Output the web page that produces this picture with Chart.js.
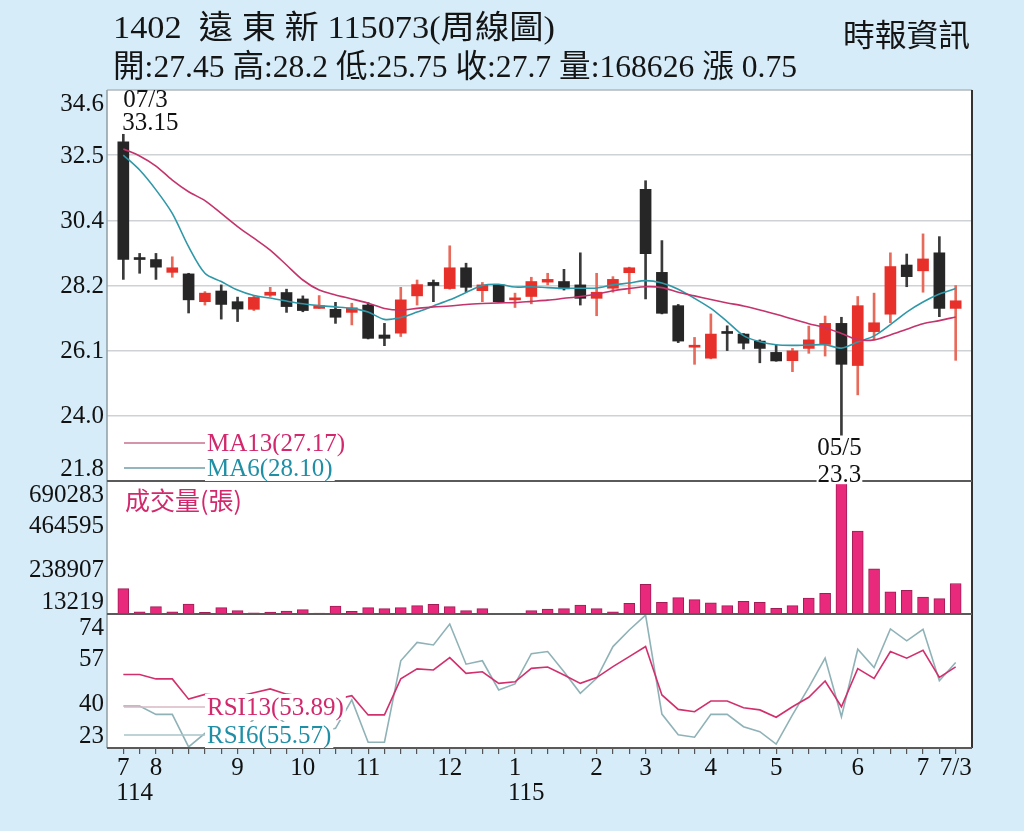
<!DOCTYPE html>
<html><head><meta charset="utf-8">
<script src="https://cdn.jsdelivr.net/npm/chart.js"></script>
<style>
html,body{margin:0;padding:0;background:#d6ecf8;width:1024px;height:831px;overflow:hidden;}
#wrap{position:relative;width:1024px;height:831px;}
canvas{position:absolute;left:0;top:0;}
.hd{position:absolute;white-space:pre;font-family:"Liberation Serif","Noto Sans CJK TC",serif;color:#151515;transform-origin:0 0;line-height:1;}
</style></head>
<body><div id="wrap">
<canvas id="c" width="1024" height="831"></canvas>
<div class="hd" id="t1" style="left:113px;top:11px;font-size:32px">1402  遠 東 新 115073(周線圖)</div>
<div class="hd" id="t2" style="left:113px;top:50px;font-size:32px">開:27.45 高:28.2 低:25.75 收:27.7 量:168626 漲 0.75</div>
<div class="hd" id="t3" style="left:843px;top:20px;font-size:31px">時報資訊</div>
</div>
<script>
// ---- data (weekly, 52 weeks) ----
const opens  = [32.9,29.1,29.05,28.63,28.58,27.67,28.02,27.67,27.42,27.88,27.97,27.76,27.45,27.42,27.32,27.56,26.58,26.64,27.86,28.3,28.1,28.78,28.03,28.22,27.73,27.84,28.31,28.33,28.22,27.78,28.11,28.62,31.35,28.63,27.54,26.18,25.82,26.66,26.61,26.38,26.01,25.74,26.14,26.27,26.96,25.58,26.69,27.26,28.87,28.68,29.27,27.45];
const highs  = [33.15,29.25,29.25,29.14,28.6,28.0,28.22,27.82,27.85,28.14,28.08,27.86,27.87,27.65,27.62,27.64,26.96,28.14,28.38,28.38,29.5,28.93,28.3,28.23,27.95,28.47,28.6,28.73,29.27,28.6,28.49,28.8,31.63,29.67,27.58,26.5,27.27,26.88,26.63,26.42,26.25,26.14,26.87,27.2,27.16,27.84,27.95,29.27,29.23,29.89,29.8,28.2];
const lows   = [28.4,28.6,28.4,28.47,27.3,27.56,27.1,27.02,27.38,27.84,27.32,27.34,27.45,26.96,26.91,26.45,26.23,26.53,27.56,27.67,28.08,28.0,27.67,27.66,27.48,27.6,28.22,28.05,27.56,27.21,27.98,27.93,27.76,27.27,26.33,25.62,25.8,26.07,26.12,25.67,25.72,25.38,25.98,25.89,23.3,24.62,26.42,26.98,28.16,27.98,27.18,25.75];
const closes = [29.05,29.05,28.8,28.78,27.73,27.95,27.58,27.43,27.81,27.98,27.51,27.38,27.54,27.16,27.47,26.47,26.47,27.73,28.23,28.2,28.78,28.14,28.22,27.67,27.78,28.33,28.4,28.09,27.78,27.98,28.4,28.78,29.24,27.29,26.38,26.23,26.61,26.63,26.31,26.14,25.73,26.06,26.42,26.96,25.62,27.54,26.98,28.82,28.49,29.07,27.45,27.7];
const ma13 = [32.67,32.44,32.11,31.65,31.27,30.98,30.56,30.13,29.75,29.36,28.87,28.38,28.05,27.89,27.76,27.62,27.45,27.4,27.45,27.5,27.53,27.58,27.61,27.63,27.64,27.68,27.72,27.78,27.84,27.92,28.03,28.1,28.16,28.13,27.98,27.86,27.74,27.63,27.53,27.4,27.26,27.1,26.95,26.82,26.63,26.43,26.42,26.58,26.77,26.95,27.05,27.17];
const ma6  = [32.47,31.98,31.33,30.56,29.47,28.6,28.33,28.05,27.87,27.79,27.69,27.6,27.54,27.5,27.45,27.33,27.09,27.15,27.33,27.53,27.73,27.97,28.2,28.24,28.15,28.16,28.13,28.11,28.11,28.12,28.22,28.28,28.36,28.28,28.08,27.78,27.45,27.02,26.56,26.36,26.26,26.24,26.25,26.26,26.15,26.35,26.55,26.92,27.33,27.66,27.92,28.10];
const volume = [142000,24900,50400,24900,64100,21900,45300,30000,19800,23400,28500,35100,18300,53900,27000,45300,40200,45300,55500,62600,50400,30000,40200,13219,14800,30000,38700,40200,59000,40200,24900,67700,164400,72800,96200,86000,70700,55500,77900,72800,42200,55500,94700,118600,690283,435800,243800,126700,133900,99800,91100,168626];
const rsi13 = [51.0,51.0,49.3,49.3,41.6,43.4,43.0,42.6,44.0,45.5,43.5,42.8,42.0,41.5,42.9,35.6,35.6,49.3,53.1,52.7,57.4,51.4,52.0,47.6,48.2,53.3,53.8,50.8,47.6,49.8,54.0,57.8,61.6,43.2,37.7,36.8,40.9,40.9,38.3,37.5,34.7,38.7,42.3,48.5,38.7,53.2,49.5,59.7,57.2,60.2,49.9,53.89];
const rsi6  = [39.0,39.0,35.8,35.8,23.4,28.6,30.0,28.0,34.0,37.0,32.0,30.0,29.0,30.5,41.3,25.2,25.2,56.2,63.2,62.2,70.2,54.9,56.2,45.1,47.4,58.9,59.7,52.0,43.8,49.5,61.6,67.9,73.6,35.9,28.0,27.1,35.8,35.8,31.1,29.2,24.5,35.6,46.1,57.2,34.9,60.6,53.6,68.3,63.8,68.2,48.6,55.57];

// ---- axis ranges and tick labels ----
const priceRange = [21.8, 34.6];
const volRange = [13219, 690283];
const rsiRange = [23, 74];
const priceTickText = ['21.8','24.0','26.1','28.2','30.4','32.5','34.6'];
const volTickText = ['13219','238907','464595','690283'];
const rsiTickText = ['23','40','57','74'];
const monthTickIdx = [0,2,7,11,15,20,24,29,32,36,40,45,49,51];
const monthTickText = ['7','8','9','10','11','12','1','2','3','4','5','6','7','7/3'];
const yearTickIdx = [0,24];
const yearTickText = ['114','115'];
const markIdx = [0,44];
const markDate = ['07/3','05/5'];
const markVal = ['33.15','23.3'];
const legendText = {ma13:'MA13(27.17)', ma6:'MA6(28.10)', vol:'成交量(張)', rsi13:'RSI13(53.89)', rsi6:'RSI6(55.57)'};

// ---- header fit ----
function fitW(id, w){ const el=document.getElementById(id); const r=el.getBoundingClientRect().width; el.style.transform='scaleX('+(w/r)+')'; }
fitW('t1', 442); fitW('t2', 684); fitW('t3', 127);

const RED='#e8302a', REDW='#e86a5a', BLK='#262626';
const isUp = closes.map((c,i)=>c>=opens[i]);
const idx = closes.map((_,i)=>i);

const SERIF='"Liberation Serif", "Times New Roman", serif';

const panelPlugin = {
  id:'panels',
  beforeDraw(chart){
    const {ctx, chartArea:a} = chart;
    ctx.save(); ctx.fillStyle='#ffffff'; ctx.fillRect(a.left,a.top,a.right-a.left,a.bottom-a.top); ctx.restore();
  },
  beforeDatasetDraw(chart,args){
    const ys = args.meta.yScale, a = chart.chartArea, ctx = chart.ctx;
    ctx.save(); ctx.beginPath(); ctx.rect(a.left, ys.top, a.right-a.left, ys.bottom-ys.top); ctx.clip();
  },
  afterDatasetDraw(chart){ chart.ctx.restore(); },
  afterDatasetsDraw(chart){
    const {ctx, chartArea:a, scales} = chart;
    const yp=scales.yPrice, yv=scales.yVol, yr=scales.yRsi, x=scales.x;
    ctx.save();
    ctx.lineWidth=1.5; ctx.strokeStyle='#b9bfc3';
    ctx.beginPath(); ctx.moveTo(a.left,a.top); ctx.lineTo(a.right,a.top); ctx.stroke();
    ctx.strokeStyle='#8e9ea6';
    ctx.beginPath(); ctx.moveTo(a.left,a.top); ctx.lineTo(a.left,a.bottom); ctx.stroke();
    ctx.lineWidth=2; ctx.strokeStyle='#333';
    ctx.beginPath(); ctx.moveTo(a.right,a.top); ctx.lineTo(a.right,a.bottom); ctx.stroke();
    ctx.strokeStyle='#5a5a5a';
    [yp.bottom, yv.bottom, a.bottom].forEach(y=>{ctx.beginPath(); ctx.moveTo(a.left,y); ctx.lineTo(a.right,y); ctx.stroke();});

    function legend(txt, col, lineCol, cy){
      ctx.lineWidth=1.3; ctx.strokeStyle=lineCol;
      ctx.beginPath(); ctx.moveTo(a.left+17, cy); ctx.lineTo(a.left+98, cy); ctx.stroke();
      ctx.font='25px '+SERIF; ctx.textBaseline='middle'; ctx.textAlign='left';
      const w=ctx.measureText(txt).width;
      ctx.fillStyle='#fff'; ctx.fillRect(a.left+98, cy-13, w+4, 26);
      ctx.fillStyle=col; ctx.fillText(txt, a.left+100, cy+1);
    }
    legend(legendText.ma13, '#d2286c', '#c9708f', yp.bottom-38);
    legend(legendText.ma6, '#1f8fa6', '#6f9ea8', yp.bottom-13);
    legend(legendText.rsi13, '#d2286c', '#d8b8c4', yr.bottom-41);
    legend(legendText.rsi6, '#1f8fa6', '#a9c4c8', yr.bottom-13);
    ctx.font='25px "Noto Sans CJK TC", sans-serif'; ctx.fillStyle='#d2286c'; ctx.textBaseline='middle'; ctx.textAlign='left';
    ctx.fillText(legendText.vol, a.left+18, yv.top+19);

    ctx.font='25px '+SERIF; ctx.fillStyle='#111';
    const hx = x.getPixelForValue(markIdx[0]), hy = yp.getPixelForValue(highs[markIdx[0]]);
    ctx.textAlign='left'; ctx.textBaseline='alphabetic';
    ctx.fillText(markVal[0], hx-1, hy-4);
    ctx.fillText(markDate[0], hx, hy-27);
    const lx = x.getPixelForValue(markIdx[1]), ly = yp.getPixelForValue(lows[markIdx[1]]);
    ctx.textAlign='center'; ctx.textBaseline='top';
    ctx.fillStyle='#fff';
    const w1=ctx.measureText(markVal[1]).width;
    ctx.fillRect(lx-w1/2-3, ly+27, w1+2, 22);
    ctx.fillStyle='#111';
    ctx.fillText(markDate[1], lx-2, ly+1);
    ctx.fillText(markVal[1], lx-2, ly+28);
    ctx.restore();
  },
  afterDraw(chart){
    const {ctx, chartArea:a, scales} = chart;
    const yp=scales.yPrice, yv=scales.yVol, yr=scales.yRsi, x=scales.x;
    ctx.save();
    ctx.font='25px '+SERIF; ctx.fillStyle='#111'; ctx.textAlign='right'; ctx.textBaseline='middle';
    function ylabels(scale, range, texts){
      const n=texts.length;
      texts.forEach((t,k)=>{
        const v = range[0] + (range[1]-range[0])*k/(n-1);
        let y = scale.getPixelForValue(v);
        if(k===0) y-=13; else if(k===n-1) y+=13;
        ctx.fillText(t, a.left-3, y+1);
      });
    }
    ylabels(yp, priceRange, priceTickText);
    ylabels(yv, volRange, volTickText);
    ylabels(yr, rsiRange, rsiTickText);
    ctx.textAlign='center'; ctx.textBaseline='top';
    monthTickIdx.forEach((i,k)=>{ ctx.fillText(monthTickText[k], x.getPixelForValue(i), a.bottom+8); });
    ctx.textAlign='left';
    yearTickIdx.forEach((i,k)=>{ ctx.fillText(yearTickText[k], x.getPixelForValue(i)-7, a.bottom+33); });
    ctx.restore();
  }
};

const chart = new Chart(document.getElementById('c'), {
  data:{
    datasets:[
      {type:'line', label:'MA13', data:idx.map(i=>({x:i,y:ma13[i]})), yAxisID:'yPrice', borderColor:'#c4336b', borderWidth:1.6, pointRadius:0, tension:0.3, order:0},
      {type:'line', label:'MA6', data:idx.map(i=>({x:i,y:ma6[i]})), yAxisID:'yPrice', borderColor:'#2f98a8', borderWidth:1.6, pointRadius:0, tension:0.3, order:0},
      {type:'bar', label:'body', data:idx.map(i=>({x:i,y:[Math.min(opens[i],closes[i]),Math.max(opens[i],closes[i])]})), yAxisID:'yPrice', backgroundColor:isUp.map(u=>u?RED:BLK), barThickness:11, minBarLength:2, grouped:false, order:1},
      {type:'bar', label:'wick', data:idx.map(i=>({x:i,y:[lows[i],highs[i]]})), yAxisID:'yPrice', backgroundColor:isUp.map(u=>u?REDW:'#3a3a3a'), barThickness:2, grouped:false, order:2},
      {type:'bar', label:'volume', data:idx.map(i=>({x:i,y:volume[i]})), yAxisID:'yVol', backgroundColor:'#e8297c', borderColor:'#a01d55', borderWidth:1, barThickness:11, grouped:false, order:3},
      {type:'line', label:'RSI13', data:idx.map(i=>({x:i,y:rsi13[i]})), yAxisID:'yRsi', borderColor:'#d2306c', borderWidth:1.6, pointRadius:0, tension:0, order:4},
      {type:'line', label:'RSI6', data:idx.map(i=>({x:i,y:rsi6[i]})), yAxisID:'yRsi', borderColor:'#8fb2b7', borderWidth:1.6, pointRadius:0, tension:0, order:5}
    ]
  },
  options:{
    responsive:false, animation:false, devicePixelRatio:1,
    layout:{padding:{left:107, right:52, top:90, bottom:77}},
    plugins:{legend:{display:false}, tooltip:{enabled:false}},
    scales:{
      x:{type:'linear', min:-1, max:52, offset:false,
         afterBuildTicks:s=>{ s.ticks = idx.map(i=>({value:i})); },
         ticks:{display:false},
         grid:{drawOnChartArea:false, drawTicks:true, tickLength:6, color:'#555', lineWidth:1.2, offset:false},
         border:{display:false}},
      yRsi:{type:'linear', position:'left', stack:'p', stackWeight:134, min:rsiRange[0], max:rsiRange[1],
         ticks:{display:false}, grid:{display:false}, border:{display:false}},
      yVol:{type:'linear', position:'left', stack:'p', stackWeight:133, min:volRange[0], max:volRange[1],
         ticks:{display:false}, grid:{display:false}, border:{display:false}},
      yPrice:{type:'linear', position:'left', stack:'p', stackWeight:391, min:priceRange[0], max:priceRange[1],
         afterBuildTicks:s=>{ s.ticks = priceTickText.map((_,k)=>({value: priceRange[0]+(priceRange[1]-priceRange[0])*k/(priceTickText.length-1)})); },
         ticks:{display:false}, grid:{color:'#cfd2d4', lineWidth:1.5, drawTicks:false}, border:{display:false}}
    }
  },
  plugins:[panelPlugin]
});
// align the plot area to the reference frame (107..972 x 90..748)
(function(){
  const ca = chart.chartArea, p = chart.options.layout.padding;
  chart.options.layout.padding = {
    left: p.left + (107 - ca.left), right: p.right + (ca.right - 972),
    top: p.top + (90 - ca.top), bottom: p.bottom + (ca.bottom - 748)
  };
  chart.update();
})();
</script>
</body></html>
